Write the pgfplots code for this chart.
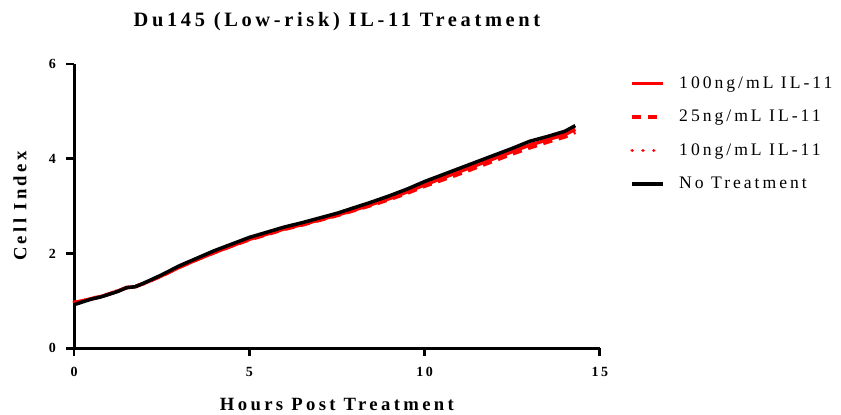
\documentclass[border=0pt]{standalone}
\usepackage{fontspec}
\setmainfont{Liberation Serif}[LetterSpace=18]
\newfontfamily\legfont{Liberation Serif}[LetterSpace=17]
\usepackage{pgfplots}
\pgfplotsset{compat=1.18}
\begin{document}
\begin{tikzpicture}
\begin{axis}[
    name=ax,
    scale only axis,
    width=394pt,
    height=213pt,
    xmin=0, xmax=15,
    ymin=0, ymax=6,
    xtick={0,5,10,15},
    ytick={0,2,4,6},
    axis x line*=bottom,
    axis y line*=left,
    axis line style={line width=2.2pt},
    xtick style={draw=black, line width=2pt},
    ytick style={draw=black, line width=2pt},
    tick align=outside,
    major tick length=6pt,
    /pgf/number format/assume math mode=true,
    tick label style={font=\fontsize{10.5}{12}\selectfont\bfseries},
    xticklabel style={yshift=-5pt},
    yticklabel style={xshift=-4pt},
    xlabel={Hours Post Treatment},
    ylabel={Cell Index},
    label style={font=\fontsize{14}{16}\selectfont\bfseries},
    xlabel style={at={(axis description cs:0.5,0)}, anchor=center, yshift=-42pt},
    ylabel style={at={(axis description cs:-0.103,0.5)}, anchor=center},
    title={Du145 (Low-risk) IL-11 Treatment},
    title style={font=\fontsize{15.3}{17}\selectfont\bfseries, yshift=15pt},
    legend style={at={(1.05,0.975)}, anchor=north west, draw=none,
        font=\legfont\fontsize{13.2}{15}\selectfont, row sep=10.8pt,
        /tikz/every odd column/.append style={column sep=9pt}},
    legend cell align=left,
    legend image code/.code={\draw[#1] (0pt,0pt) -- (23pt,0pt);},
    clip=false,
]

% 100 ng/mL
\addplot[red, line width=2.6pt] coordinates {
    (0,0.97) (0.25,1.0) (0.5,1.05) (0.75,1.09) (1.0,1.14) (1.25,1.21)
    (1.5,1.28) (1.75,1.3) (2.0,1.37) (2.5,1.53) (3.0,1.71) (3.5,1.87)
    (4.0,2.02) (4.5,2.16) (5.0,2.3) (5.5,2.41) (6.0,2.52) (6.5,2.61)
    (7.0,2.71) (7.5,2.81) (8.0,2.92) (8.5,3.04) (9.0,3.16) (9.5,3.3)
    (10.0,3.45) (10.5,3.59) (11.0,3.73) (11.5,3.87) (12.0,4.01)
    (12.5,4.15) (13.0,4.29) (13.5,4.4) (14.0,4.51) (14.3,4.62)
};
\addlegendentry{100ng/mL IL-11}

% 25 ng/mL
\addplot[red, line width=2.6pt, dash pattern=on 7pt off 5pt] coordinates {
    (0,0.96) (0.25,1.0) (0.5,1.04) (0.75,1.09) (1.0,1.15) (1.25,1.21)
    (1.5,1.28) (1.75,1.31) (2.0,1.37) (2.5,1.53) (3.0,1.71) (3.5,1.87)
    (4.0,2.02) (4.5,2.16) (5.0,2.29) (5.5,2.4) (6.0,2.51) (6.5,2.6)
    (7.0,2.7) (7.5,2.8) (8.0,2.91) (8.5,3.02) (9.0,3.14) (9.5,3.27)
    (10.0,3.42) (10.5,3.55) (11.0,3.68) (11.5,3.82) (12.0,3.96)
    (12.5,4.1) (13.0,4.23) (13.5,4.35) (14.0,4.46) (14.3,4.56)
};
\addlegendentry{25ng/mL IL-11}

% 10 ng/mL
\addplot[red, line width=2.6pt, dash pattern=on 0.1pt off 8pt, line cap=round] coordinates {
    (0,0.98) (0.25,1.01) (0.5,1.06) (0.75,1.1) (1.0,1.15) (1.25,1.22)
    (1.5,1.29) (1.75,1.31) (2.0,1.38) (2.5,1.54) (3.0,1.72) (3.5,1.88)
    (4.0,2.03) (4.5,2.17) (5.0,2.31) (5.5,2.42) (6.0,2.53) (6.5,2.62)
    (7.0,2.72) (7.5,2.82) (8.0,2.93) (8.5,3.05) (9.0,3.17) (9.5,3.31)
    (10.0,3.46) (10.5,3.6) (11.0,3.74) (11.5,3.88) (12.0,4.02)
    (12.5,4.16) (13.0,4.3) (13.5,4.41) (14.0,4.52) (14.3,4.63)
};
\addlegendentry{10ng/mL IL-11}

% No treatment
\addplot[black, line width=2.6pt] coordinates {
    (0,0.92) (0.25,0.98) (0.5,1.04) (0.75,1.08) (1.0,1.14) (1.25,1.2)
    (1.5,1.28) (1.75,1.3) (2.0,1.38) (2.5,1.55) (3.0,1.74) (3.5,1.9)
    (4.0,2.06) (4.5,2.2) (5.0,2.34) (5.5,2.45) (6.0,2.56) (6.5,2.65)
    (7.0,2.75) (7.5,2.85) (8.0,2.97) (8.5,3.09) (9.0,3.22) (9.5,3.36)
    (10.0,3.52) (10.5,3.66) (11.0,3.8) (11.5,3.94) (12.0,4.08)
    (12.5,4.22) (13.0,4.37) (13.5,4.47) (14.0,4.58) (14.3,4.7)
};
\addlegendentry{No Treatment}

\end{axis}
% page size matching the reference margins
\pgfresetboundingbox
\path ([xshift=-55.5pt,yshift=-49.5pt]ax.south west) rectangle ([xshift=180.75pt,yshift=48pt]ax.north east);
\end{tikzpicture}
\end{document}
